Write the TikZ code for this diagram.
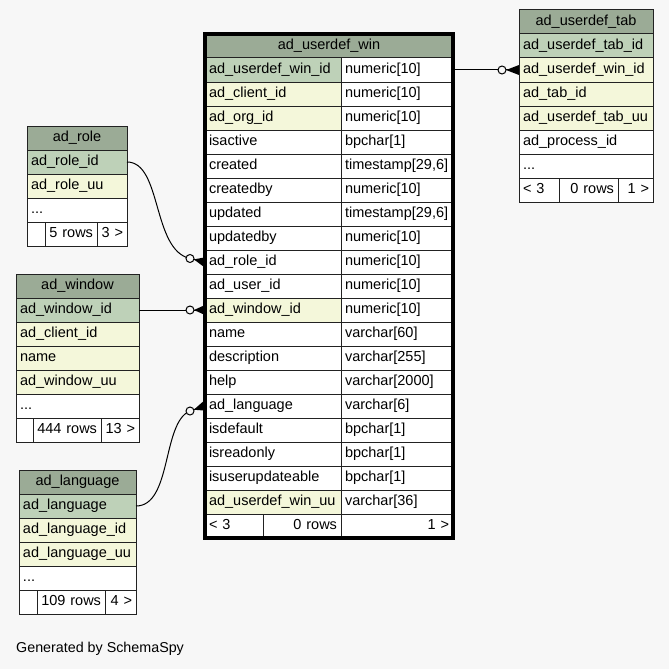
\documentclass[tikz,border=0pt]{standalone}
\usepackage{fontspec}
\setmainfont{Liberation Sans}
\usetikzlibrary{calc}
\definecolor{bgc}{HTML}{F7F7F7}
\definecolor{headc}{HTML}{9BAB96}
\definecolor{pkc}{HTML}{BED1B8}
\definecolor{idxc}{HTML}{F4F7DA}
\definecolor{linec}{HTML}{222222}
\tikzset{
  tcell/.style={draw=linec, line width=1pt, anchor=north west, inner xsep=4pt, inner ysep=0pt,
    outer sep=0pt, minimum height=24pt, font=\fontsize{14.5}{17}\selectfont},
  conn/.style={draw=black, line width=1pt},
  odot/.style={draw=black, fill=bgc, line width=1pt},
  crowfill/.style={fill=black}
}
\newcommand\tcell[7]{\pgfmathsetlengthmacro\tcw{#4-8}\node[tcell, fill=#5, align=#6, text width=\tcw] (#1) at (#2,#3) {\strut\mbox{#7}};}
\newcommand\crowfoot[2]{\fill[crowfill] (#1) -- ($(#2)!5pt!90:(#1)$) -- ($(#2)!5pt!-90:(#1)$) -- cycle; \draw[conn] (#1) -- (#2);}
\begin{document}
\begin{tikzpicture}[x=1pt,y=-1pt]
\fill[bgc] (0,0) rectangle (669,669);
\useasboundingbox (0,0) rectangle (669,669);

% ---------------- ad_userdef_win (main) ----------------
\tcell{w_h}{205}{34}{248}{headc}{center}{ad\_userdef\_win}
\tcell{w_k1}{205}{58}{136}{pkc}{left}{ad\_userdef\_win\_id}
\tcell{w_t1}{341}{58}{112}{white}{left}{numeric[10]}
\tcell{w_k2}{205}{82}{136}{idxc}{left}{ad\_client\_id}
\tcell{w_t2}{341}{82}{112}{white}{left}{numeric[10]}
\tcell{w_k3}{205}{106}{136}{idxc}{left}{ad\_org\_id}
\tcell{w_t3}{341}{106}{112}{white}{left}{numeric[10]}
\tcell{w_k4}{205}{130}{136}{white}{left}{isactive}
\tcell{w_t4}{341}{130}{112}{white}{left}{bpchar[1]}
\tcell{w_k5}{205}{154}{136}{white}{left}{created}
\tcell{w_t5}{341}{154}{112}{white}{left}{timestamp[29,6]}
\tcell{w_k6}{205}{178}{136}{white}{left}{createdby}
\tcell{w_t6}{341}{178}{112}{white}{left}{numeric[10]}
\tcell{w_k7}{205}{202}{136}{white}{left}{updated}
\tcell{w_t7}{341}{202}{112}{white}{left}{timestamp[29,6]}
\tcell{w_k8}{205}{226}{136}{white}{left}{updatedby}
\tcell{w_t8}{341}{226}{112}{white}{left}{numeric[10]}
\tcell{w_k9}{205}{250}{136}{white}{left}{ad\_role\_id}
\tcell{w_t9}{341}{250}{112}{white}{left}{numeric[10]}
\tcell{w_k10}{205}{274}{136}{white}{left}{ad\_user\_id}
\tcell{w_t10}{341}{274}{112}{white}{left}{numeric[10]}
\tcell{w_k11}{205}{298}{136}{idxc}{left}{ad\_window\_id}
\tcell{w_t11}{341}{298}{112}{white}{left}{numeric[10]}
\tcell{w_k12}{205}{322}{136}{white}{left}{name}
\tcell{w_t12}{341}{322}{112}{white}{left}{varchar[60]}
\tcell{w_k13}{205}{346}{136}{white}{left}{description}
\tcell{w_t13}{341}{346}{112}{white}{left}{varchar[255]}
\tcell{w_k14}{205}{370}{136}{white}{left}{help}
\tcell{w_t14}{341}{370}{112}{white}{left}{varchar[2000]}
\tcell{w_k15}{205}{394}{136}{white}{left}{ad\_language}
\tcell{w_t15}{341}{394}{112}{white}{left}{varchar[6]}
\tcell{w_k16}{205}{418}{136}{white}{left}{isdefault}
\tcell{w_t16}{341}{418}{112}{white}{left}{bpchar[1]}
\tcell{w_k17}{205}{442}{136}{white}{left}{isreadonly}
\tcell{w_t17}{341}{442}{112}{white}{left}{bpchar[1]}
\tcell{w_k18}{205}{466}{136}{white}{left}{isuserupdateable}
\tcell{w_t18}{341}{466}{112}{white}{left}{bpchar[1]}
\tcell{w_k19}{205}{490}{136}{idxc}{left}{ad\_userdef\_win\_uu}
\tcell{w_t19}{341}{490}{112}{white}{left}{varchar[36]}
\tcell{w_f1}{205}{514}{58}{white}{left}{< 3}
\tcell{w_f2}{263}{514}{78}{white}{right}{0 rows}
\tcell{w_f3}{341}{514}{112}{white}{right}{1 >}
\draw[line width=4pt, black] (w_h.north west) rectangle (w_f3.south east);

% ---------------- ad_userdef_tab ----------------
\tcell{t_h}{519}{10}{134}{headc}{center}{ad\_userdef\_tab}
\tcell{t_1}{519}{34}{134}{pkc}{left}{ad\_userdef\_tab\_id}
\tcell{t_2}{519}{58}{134}{idxc}{left}{ad\_userdef\_win\_id}
\tcell{t_3}{519}{82}{134}{idxc}{left}{ad\_tab\_id}
\tcell{t_4}{519}{106}{134}{idxc}{left}{ad\_userdef\_tab\_uu}
\tcell{t_5}{519}{130}{134}{white}{left}{ad\_process\_id}
\tcell{t_6}{519}{154}{134}{white}{left}{...}
\tcell{t_f1}{519}{178}{40}{white}{left}{< 3}
\tcell{t_f2}{559}{178}{59}{white}{right}{0 rows}
\tcell{t_f3}{618}{178}{35}{white}{right}{1 >}

% ---------------- ad_role ----------------
\tcell{r_h}{27}{126}{100}{headc}{center}{ad\_role}
\tcell{r_1}{27}{150}{100}{pkc}{left}{ad\_role\_id}
\tcell{r_2}{27}{174}{100}{idxc}{left}{ad\_role\_uu}
\tcell{r_3}{27}{198}{100}{white}{left}{...}
\tcell{r_f1}{27}{222}{18}{white}{left}{}
\tcell{r_f2}{45}{222}{52}{white}{right}{5 rows}
\tcell{r_f3}{97}{222}{30}{white}{right}{3 >}

% ---------------- ad_window ----------------
\tcell{n_h}{16}{274}{123}{headc}{center}{ad\_window}
\tcell{n_1}{16}{298}{123}{pkc}{left}{ad\_window\_id}
\tcell{n_2}{16}{322}{123}{idxc}{left}{ad\_client\_id}
\tcell{n_3}{16}{346}{123}{idxc}{left}{name}
\tcell{n_4}{16}{370}{123}{idxc}{left}{ad\_window\_uu}
\tcell{n_5}{16}{394}{123}{white}{left}{...}
\tcell{n_f1}{16}{418}{17}{white}{left}{}
\tcell{n_f2}{33}{418}{68}{white}{right}{444 rows}
\tcell{n_f3}{101}{418}{38}{white}{right}{13 >}

% ---------------- ad_language ----------------
\tcell{l_h}{19}{470}{117}{headc}{center}{ad\_language}
\tcell{l_1}{19}{494}{117}{pkc}{left}{ad\_language}
\tcell{l_2}{19}{518}{117}{idxc}{left}{ad\_language\_id}
\tcell{l_3}{19}{542}{117}{idxc}{left}{ad\_language\_uu}
\tcell{l_4}{19}{566}{117}{white}{left}{...}
\tcell{l_f1}{19}{590}{18}{white}{left}{}
\tcell{l_f2}{37}{590}{68}{white}{right}{109 rows}
\tcell{l_f3}{105}{590}{31}{white}{right}{4 >}

% ---------------- connectors ----------------
\coordinate (c1) at ($(t_2.west)+(-17,0)$);
\coordinate (c2) at (190,258.5);
\coordinate (c3) at ($(w_k11.west)+(-15,0)$);
\coordinate (c4) at (190,411);

\draw[conn] (w_t1.east) -- (c1);
\draw[conn] (r_1.east) .. controls (162,162) and (152,250) .. (c2);
\draw[conn] (n_1.east) -- (c3);
\draw[conn] (l_1.east) .. controls (172,506) and (162,422) .. (c4);

\coordinate (a1) at ($(c1)!4pt!(t_2.west)$);
\coordinate (a2) at ($(c2)!4pt!(w_k9.west)$);
\coordinate (a3) at ($(c3)!4pt!(w_k11.west)$);
\coordinate (a4) at ($(c4)!4pt!(w_k15.west)$);
\crowfoot{a1}{t_2.west}
\crowfoot{a2}{w_k9.west}
\crowfoot{a3}{w_k11.west}
\crowfoot{a4}{w_k15.west}

\draw[odot] (c1) circle[radius=4pt];
\draw[odot] (c2) circle[radius=4pt];
\draw[odot] (c3) circle[radius=4pt];
\draw[odot] (c4) circle[radius=4pt];

\node[anchor=west, inner sep=0pt, font=\fontsize{14.3}{17}\selectfont] (gen) at (16,649) {Generated by SchemaSpy};
\end{tikzpicture}
\end{document}
